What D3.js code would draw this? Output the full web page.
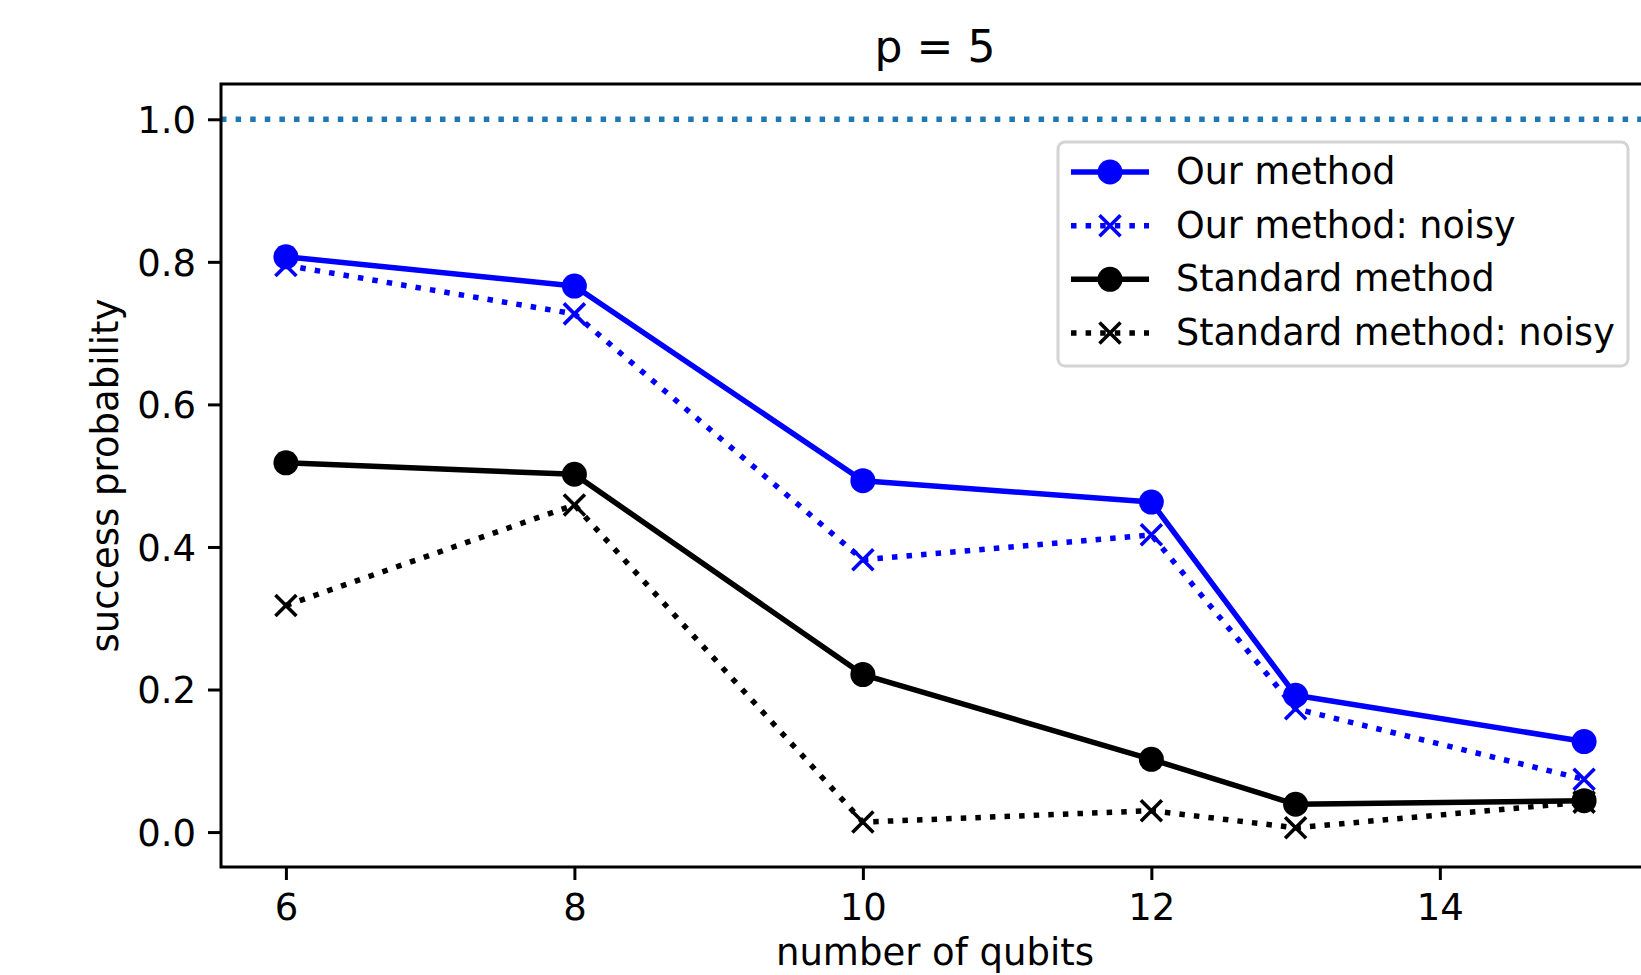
<!DOCTYPE html>
<html>
<head>
  <meta charset="utf-8">
  <script src="https://cdn.jsdelivr.net/npm/d3@7"></script>
  <style>
    body { margin: 0; background: white; }
    svg { display: block; font-family: "DejaVu Sans", sans-serif; }
  </style>
</head>
<body>
  <div id="chart"></div>
  <script>
    // data
    var qubits = [6, 8, 10, 12, 13, 15];
    var ourMethod = [0.807, 0.766, 0.493, 0.463, 0.192, 0.127];
    var ourNoisy = [0.795, 0.727, 0.382, 0.417, 0.173, 0.074];
    var stdMethod = [0.518, 0.502, 0.221, 0.102, 0.039, 0.044];
    var stdNoisy = [0.318, 0.459, 0.014, 0.030, 0.006, 0.042];
    var xTicks = [6, 8, 10, 12, 14];
    var yTicks = [0.0, 0.2, 0.4, 0.6, 0.8, 1.0];
    var seriesNames = ["Our method", "Our method: noisy", "Standard method", "Standard method: noisy"];

    var width = 1641, height = 975;
    // plot box (window.top is read-only, so use prefixed names)
    var axL = 221, axR = 1649, axT = 84, axB = 867;
    var lw = 5.5, dotted = "5.5,9.1";

    var series = [
      { name: seriesNames[0], values: ourMethod, color: "#0000ff", dash: null, marker: "o" },
      { name: seriesNames[1], values: ourNoisy, color: "#0000ff", dash: dotted, marker: "x" },
      { name: seriesNames[2], values: stdMethod, color: "#000000", dash: null, marker: "o" },
      { name: seriesNames[3], values: stdNoisy, color: "#000000", dash: dotted, marker: "x" }
    ];

    var x = d3.scaleLinear().domain([5.55, 15.45]).range([axL, axR]);
    var y = d3.scaleLinear().domain([-0.049, 1.0495]).range([axB, axT]);

    var svg = d3.select("#chart").append("svg")
      .attr("width", width)
      .attr("height", height);

    svg.append("clipPath").attr("id", "plotClip")
      .append("rect")
      .attr("x", axL).attr("y", axT)
      .attr("width", axR - axL).attr("height", axB - axT);

    var plot = svg.append("g").attr("clip-path", "url(#plotClip)");

    // reference line at 1.0
    plot.append("line")
      .attr("x1", axL).attr("x2", axR)
      .attr("y1", y(1.0)).attr("y2", y(1.0))
      .attr("stroke", "#1f77b4")
      .attr("stroke-width", lw)
      .attr("stroke-dasharray", dotted);

    var line = d3.line()
      .x(function (d, i) { return x(qubits[i]); })
      .y(function (d) { return y(d); });

    function drawMarker(g, kind, cx, cy, color) {
      if (kind === "o") {
        g.append("circle")
          .attr("cx", cx).attr("cy", cy).attr("r", 12.5)
          .attr("fill", color);
      } else {
        var s = 10.5;
        g.append("path")
          .attr("d", "M" + (cx - s) + "," + (cy - s) + "L" + (cx + s) + "," + (cy + s) +
            "M" + (cx - s) + "," + (cy + s) + "L" + (cx + s) + "," + (cy - s))
          .attr("stroke", color)
          .attr("stroke-width", 3.6)
          .attr("fill", "none");
      }
    }

    series.forEach(function (s) {
      var g = plot.append("g");
      g.append("path")
        .datum(s.values)
        .attr("d", line)
        .attr("fill", "none")
        .attr("stroke", s.color)
        .attr("stroke-width", lw)
        .attr("stroke-linejoin", "round")
        .attr("stroke-dasharray", s.dash);
      s.values.forEach(function (v, i) {
        drawMarker(g, s.marker, x(qubits[i]), y(v), s.color);
      });
    });

    // axes
    var xAxis = svg.append("g")
      .attr("transform", "translate(0," + axB + ")")
      .call(d3.axisBottom(x).tickValues(xTicks).tickFormat(d3.format("d")).tickSize(13).tickPadding(14));
    var yAxis = svg.append("g")
      .attr("transform", "translate(" + axL + ",0)")
      .call(d3.axisLeft(y).tickValues(yTicks).tickFormat(d3.format(".1f")).tickSize(13).tickPadding(12));

    [xAxis, yAxis].forEach(function (a) {
      a.select(".domain").remove();
      a.selectAll(".tick line").attr("stroke", "#000").attr("stroke-width", 3);
      a.selectAll(".tick text")
        .attr("fill", "#000")
        .style("font-family", "DejaVu Sans")
        .style("font-size", "37px");
    });
    xAxis.selectAll(".tick text").attr("dy", "0.71em");
    yAxis.selectAll(".tick text").attr("dy", "0.36em");

    // spines
    svg.append("path")
      .attr("d", "M" + axL + "," + axB + "V" + axT + "H" + axR + "V" + axB + "Z")
      .attr("fill", "none")
      .attr("stroke", "#000")
      .attr("stroke-width", 3)
      .attr("stroke-linejoin", "miter");

    // title and labels
    svg.append("text")
      .attr("x", (axL + axR) / 2).attr("y", 62)
      .attr("text-anchor", "middle")
      .style("font-size", "44px")
      .text("p = 5");

    svg.append("text")
      .attr("x", (axL + axR) / 2).attr("y", 965)
      .attr("text-anchor", "middle")
      .style("font-size", "37px")
      .text("number of qubits");

    svg.append("text")
      .attr("transform", "translate(118," + ((axT + axB) / 2) + ") rotate(-90)")
      .attr("text-anchor", "middle")
      .style("font-size", "37px")
      .text("success probability");

    // legend
    var legend = svg.append("g");
    legend.append("rect")
      .attr("x", 1058).attr("y", 142)
      .attr("width", 570).attr("height", 224)
      .attr("rx", 7)
      .attr("fill", "white")
      .attr("fill-opacity", 0.8)
      .attr("stroke", "#d4d4d4")
      .attr("stroke-width", 3);

    var rowY = d3.scalePoint().domain(seriesNames).range([172, 333]);

    series.forEach(function (s) {
      var ry = rowY(s.name);
      var row = legend.append("g");
      row.append("line")
        .attr("x1", 1071).attr("x2", 1149)
        .attr("y1", ry).attr("y2", ry)
        .attr("stroke", s.color)
        .attr("stroke-width", lw)
        .attr("stroke-dasharray", s.dash);
      drawMarker(row, s.marker, 1110, ry, s.color);
      row.append("text")
        .attr("x", 1176).attr("y", ry + 12)
        .style("font-size", "36.5px")
        .text(s.name);
    });
  </script>
</body>
</html>
